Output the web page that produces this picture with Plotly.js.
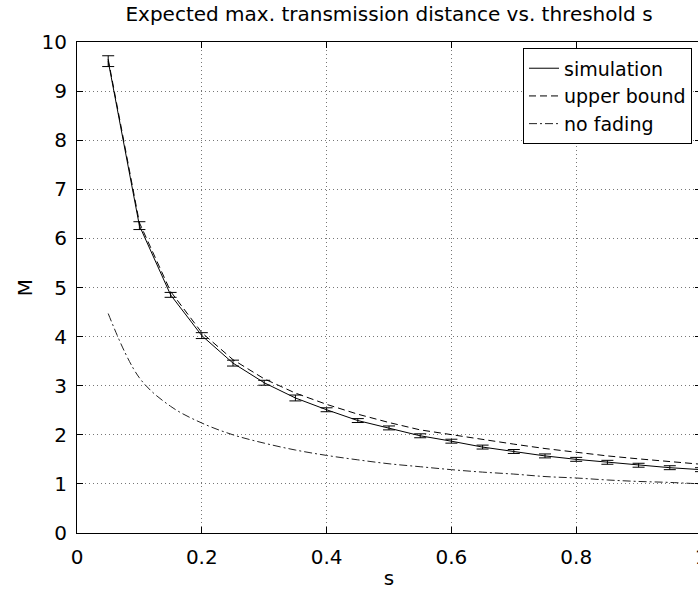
<!DOCTYPE html>
<html>
<head>
<meta charset="utf-8">
<script src="https://cdn.plot.ly/plotly-3.0.1.min.js"></script>
<style>
html,body{margin:0;padding:0;overflow:hidden;background:#fff;}
#chart{width:701px;height:590px;}
</style>
</head>
<body>
<div id="chart"></div>
<script>
// Threshold s values
const sValues = [0.05,0.10,0.15,0.20,0.25,0.30,0.35,0.40,0.45,0.50,0.55,0.60,0.65,0.70,0.75,0.80,0.85,0.90,0.95,1.00];
// Simulation mean M and error half-widths
const simulation = [9.61,6.26,4.85,4.02,3.46,3.06,2.75,2.51,2.29,2.14,1.98,1.87,1.75,1.66,1.57,1.50,1.44,1.38,1.33,1.29];
const simError = [0.11,0.08,0.05,0.06,0.06,0.05,0.06,0.04,0.04,0.04,0.04,0.04,0.04,0.04,0.04,0.04,0.04,0.04,0.04,0.04];
// Upper bound
const upperBound = [9.65,6.32,4.92,4.08,3.53,3.14,2.85,2.62,2.42,2.25,2.10,2.00,1.90,1.81,1.72,1.64,1.57,1.51,1.45,1.40];
// No fading
const noFading = [4.47,3.16,2.58,2.24,2.00,1.83,1.69,1.58,1.49,1.41,1.35,1.29,1.24,1.20,1.15,1.12,1.08,1.05,1.03,1.00];

const xTickVals = [0,0.2,0.4,0.6,0.8,1];
const xTickText = ["0","0.2","0.4","0.6","0.8","1"];
const yTickVals = [0,1,2,3,4,5,6,7,8,9,10];
const yTickText = ["0","1","2","3","4","5","6","7","8","9","10"];

const FONT = "DejaVu Sans, Liberation Sans, Arial, sans-serif";
const FS = 20;

const traces = [
  {
    x: sValues, y: simulation, type: 'scatter', mode: 'lines', name: 'simulation',
    line: {color: '#000', width: 1},
    error_y: {type: 'data', array: simError, visible: true, color: '#000', thickness: 1, width: 6}
  },
  {
    x: sValues, y: upperBound, type: 'scatter', mode: 'lines', name: 'upper bound',
    line: {color: '#000', width: 1, dash: '7px,4px'}
  },
  {
    x: sValues, y: noFading, type: 'scatter', mode: 'lines', name: 'no fading',
    line: {color: '#222', width: 1, dash: '8px,3px,2px,3px', shape: 'spline', smoothing: 1}
  }
];

const axisCommon = {
  showline: true, linecolor: '#000', linewidth: 1, mirror: 'ticks',
  ticks: 'inside', ticklen: 6, tickwidth: 1, tickcolor: '#000',
  showgrid: true, gridcolor: '#777', gridwidth: 1, griddash: '1px,3px',
  zeroline: false, ticklabeloverflow: 'allow',
  tickfont: {family: FONT, size: FS, color: '#000'}
};

const layout = {
  width: 701, height: 590,
  margin: {l: 77, r: 0, t: 42, b: 57, pad: 0},
  paper_bgcolor: '#fff', plot_bgcolor: '#fff',
  font: {family: FONT, size: FS, color: '#000'},
  title: {text: 'Expected max. transmission distance vs. threshold s',
          font: {family: FONT, size: FS, color: '#000'},
          xref: 'paper', x: 0.5, xanchor: 'center',
          yref: 'container', y: 1 - 14/590, yanchor: 'middle'},
  xaxis: Object.assign({}, axisCommon, {
    range: [0, 1], tickvals: xTickVals, ticktext: xTickText,
    ticklabelstandoff: 6,
    title: {text: 's', font: {family: FONT, size: FS, color: '#000'}, standoff: 2}
  }),
  yaxis: Object.assign({}, axisCommon, {
    range: [0, 10], tickvals: yTickVals, ticktext: yTickText,
    ticklabelstandoff: 5,
    title: {text: 'M', font: {family: FONT, size: FS, color: '#000'}, standoff: 3}
  }),
  showlegend: true,
  legend: {
    x: 0.9856, y: 0.987, xanchor: 'right', yanchor: 'top',
    bgcolor: '#fff', bordercolor: '#000', borderwidth: 1,
    font: {family: FONT, size: 19, color: '#000'},
    tracegroupgap: 0
  }
};

Plotly.newPlot('chart', traces, layout, {displayModeBar: false, staticPlot: true});
</script>
</body>
</html>
